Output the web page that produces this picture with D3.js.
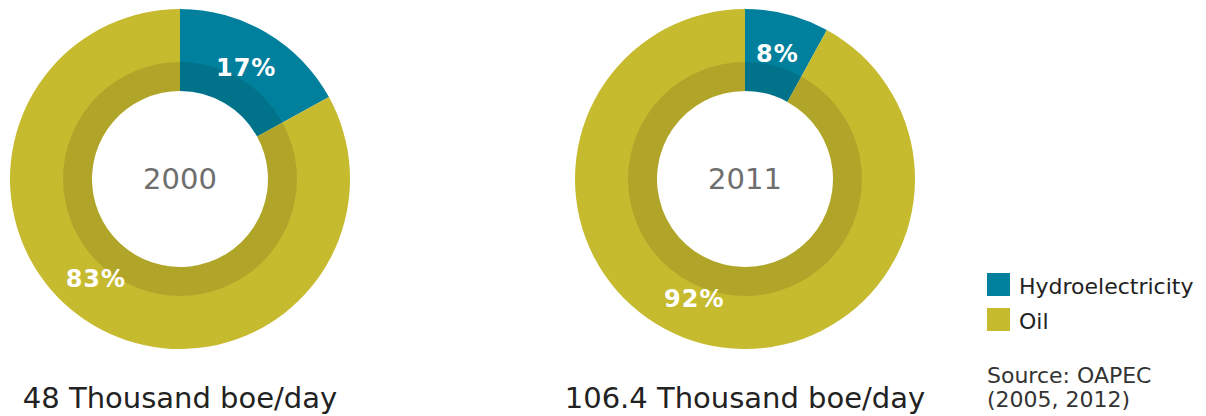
<!DOCTYPE html>
<html>
<head>
<meta charset="utf-8">
<script src="https://cdn.jsdelivr.net/npm/d3@7"></script>
<style>
  body { margin: 0; background: #fff; }
  text { font-family: "DejaVu Sans", Verdana, sans-serif; }
</style>
</head>
<body>
<div id="chart"></div>
<script>
const sources = ["Hydroelectricity", "Oil"];
const years = ["2000", "2011"];
const shares = [[17, 83], [8, 92]];
const totals = ["48 Thousand boe/day", "106.4 Thousand boe/day"];
const sourceNote = ["Source: OAPEC", "(2005, 2012)"];

const width = 1206, height = 416;

const svg = d3.select("#chart")
  .append("svg")
  .attr("width", width)
  .attr("height", height);

// color palette = one color per energy source
const color = d3.scaleOrdinal()
  .domain(sources)
  .range(["#00809c", "#c6ba2f"]);

// where each donut sits
const x = d3.scalePoint()
  .domain(years)
  .range([180, 745]);
const cy = 179;

const rOuter = 170, rInner = 88, rShade = 117, rLabel = 130;

const pie = d3.pie().sort(null).value(d => d.value);
const arc = d3.arc().innerRadius(rInner).outerRadius(rOuter);
const shade = d3.arc().innerRadius(rInner).outerRadius(rShade).startAngle(0).endAngle(2 * Math.PI);

years.forEach((year, i) => {
  const g = svg.append("g")
    .attr("transform", `translate(${x(year)}, ${cy})`);

  const slices = pie(sources.map((s, j) => ({key: s, value: shares[i][j]})));

  g.selectAll("path.slice")
    .data(slices)
    .join("path")
      .attr("class", "slice")
      .attr("d", arc)
      .attr("fill", d => color(d.data.key));

  // darker inner band
  g.append("path")
    .attr("d", shade())
    .attr("fill", "#000")
    .attr("fill-opacity", 0.11);

  // percent labels, the big slice label is nudged a bit further round
  g.selectAll("text.pct")
    .data(slices)
    .join("text")
      .attr("class", "pct")
      .attr("transform", d => {
        let a = (d.startAngle + d.endAngle) / 2;
        if (d.data.key === "Oil") a += (i === 0 ? 0.17 : 0.15);
        return `translate(${rLabel * Math.sin(a)}, ${-rLabel * Math.cos(a)})`;
      })
      .attr("text-anchor", "middle")
      .attr("dy", "0.36em")
      .attr("fill", "#fff")
      .attr("font-weight", "bold")
      .attr("font-size", "24px")
      .attr("letter-spacing", "1px")
      .text(d => d.data.value + "%");

  // year in the hole
  g.append("text")
    .attr("text-anchor", "middle")
    .attr("y", 10)
    .attr("fill", "#6e6e6e")
    .attr("font-size", "29px")
    .text(year);

  // total under the donut
  svg.append("text")
    .attr("x", x(year))
    .attr("y", 408)
    .attr("text-anchor", "middle")
    .attr("fill", "#222")
    .attr("font-size", "29px")
    .text(totals[i]);
});

// Handmade legend
const legend = svg.append("g").attr("transform", "translate(987, 273)");
legend.selectAll("rect")
  .data(sources)
  .join("rect")
    .attr("x", 0)
    .attr("y", (d, i) => i * 35)
    .attr("width", 23)
    .attr("height", 23)
    .attr("fill", d => color(d));
legend.selectAll("text")
  .data(sources)
  .join("text")
    .attr("x", 32)
    .attr("y", (d, i) => i * 35 + 21)
    .attr("fill", "#222")
    .attr("font-size", "22px")
    .text(d => d);

svg.append("g")
  .selectAll("text")
  .data(sourceNote)
  .join("text")
    .attr("x", 987)
    .attr("y", (d, i) => 383 + i * 24)
    .attr("fill", "#333")
    .attr("font-size", "22px")
    .text(d => d);
</script>
</body>
</html>
